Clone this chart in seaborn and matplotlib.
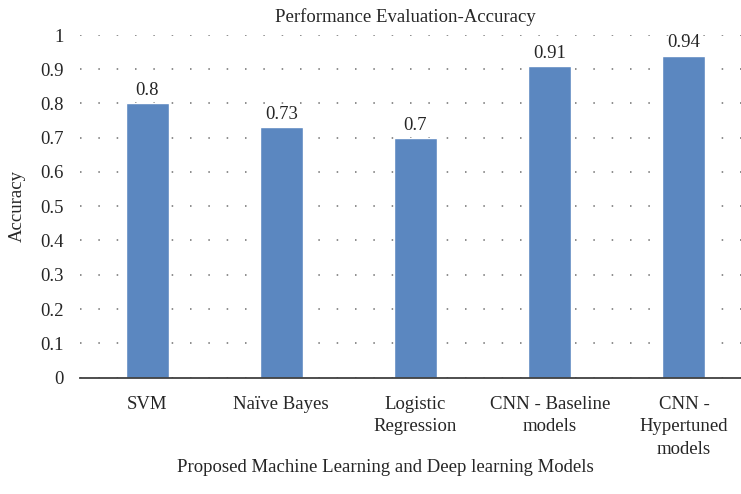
import pandas as pd
import matplotlib.pyplot as plt
import seaborn as sns

models = ["SVM", "Naïve Bayes", "Logistic\nRegression", "CNN - Baseline\nmodels", "CNN -\nHypertuned\nmodels"]
accuracy = [0.80, 0.73, 0.70, 0.91, 0.94]
yticks = [0, 0.1, 0.2, 0.3, 0.4, 0.5, 0.6, 0.7, 0.8, 0.9, 1]

def generate():
    df = pd.DataFrame({"Model": models, "Accuracy": accuracy})

    sns.set_theme(style="white")
    plt.rcParams['font.family'] = ['Liberation Serif', 'DejaVu Serif']
    txt = '#262626'
    fs = 13.5

    fig = plt.figure(figsize=(7.41, 4.94), dpi=100)
    ax = fig.add_axes([80 / 741, 116.5 / 494, 671 / 741, 342.5 / 494])

    sns.barplot(x="Model", y="Accuracy", data=df, color="#5b87c0", width=0.32,
                saturation=1, errorbar=None, ax=ax, zorder=3)

    ax.set_ylim(0, 1)
    ax.set_xlim(-0.5, 4.5)
    ax.set_yticks(yticks)
    ax.set_yticklabels([f"{t:g}" for t in yticks])
    ax.yaxis.grid(True, color='#6f6f6f', linestyle=(0, (1, 11)), linewidth=1.1, zorder=0)
    ax.xaxis.grid(False)

    for s in ['top', 'right', 'left']:
        ax.spines[s].set_visible(False)
    ax.spines['bottom'].set_color('#404040')
    ax.spines['bottom'].set_linewidth(1.3)
    ax.spines['bottom'].set_zorder(4)

    ax.tick_params(axis='both', length=0, labelsize=fs, colors=txt)
    ax.tick_params(axis='y', pad=12)
    ax.tick_params(axis='x', pad=13)
    for lbl in ax.get_xticklabels():
        lbl.set_linespacing(1.45)

    for p in ax.patches:
        ax.annotate(f"{p.get_height():g}", (p.get_x() + p.get_width() / 2., p.get_height()),
                    ha='center', va='bottom', xytext=(0, 3), textcoords='offset points',
                    fontsize=fs, color=txt)

    ax.set_ylabel("Accuracy", fontsize=fs, color=txt, labelpad=10)
    ax.set_xlabel("")
    fig.text(405 / 741, 1 - 17 / 494, "Performance Evaluation-Accuracy", ha='center', va='center',
             fontsize=fs, color=txt)
    fig.text(385 / 741, 1 - 467 / 494, "Proposed Machine Learning and Deep learning Models",
             ha='center', va='center', fontsize=fs, color=txt)

    plt.savefig('out.png', dpi=100)
    plt.close()

if __name__ == "__main__":
    generate()
